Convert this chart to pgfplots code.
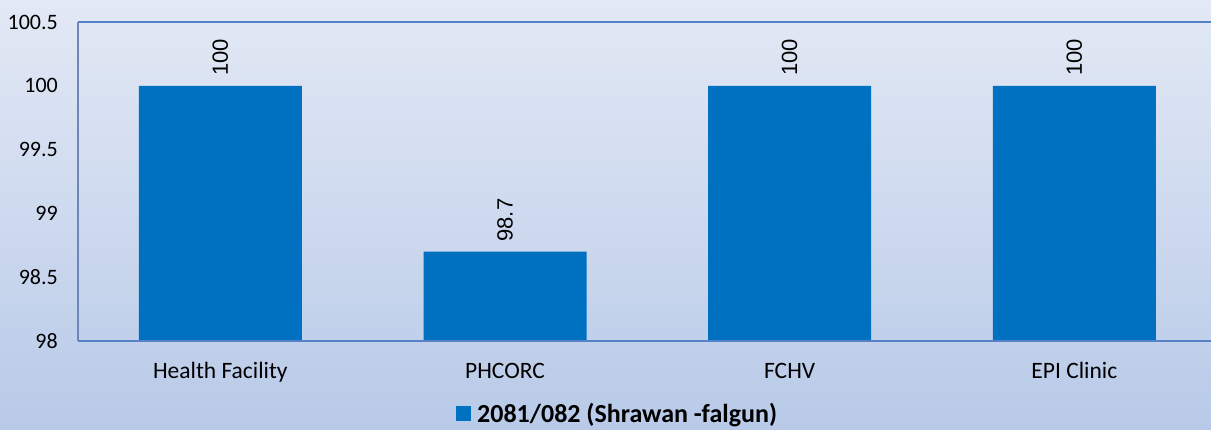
\documentclass[border=0pt]{standalone}
\usepackage{fontspec}
\setmainfont{Carlito}
\newfontfamily\arialf{Liberation Sans}
\usepackage{pgfplots}
\pgfplotsset{compat=1.18}
\definecolor{barblue}{HTML}{0070C0}
\definecolor{axisblue}{RGB}{86,128,200}
\definecolor{leftaxis}{RGB}{110,134,184}
\definecolor{bgtop}{RGB}{227,233,245}
\definecolor{bgbot}{RGB}{184,202,232}
\begin{document}
\begin{tikzpicture}[x=1pt,y=1pt]
\shade[top color=bgtop,bottom color=bgbot] (0,0) rectangle (1211,430);
\useasboundingbox (0,0) rectangle (1211,430);
\begin{axis}[
  at={(78pt,89pt)}, anchor=south west,
  scale only axis, width=1133pt, height=319pt,
  xmin=-0.5, xmax=3.48, ymin=98, ymax=100.5,
  axis line style={draw=none},
  major tick length=0pt,
  xtick={0,1,2,3},
  xticklabels={Health Facility,PHCORC,FCHV,EPI Clinic},
  ytick={98,98.5,99,99.5,100,100.5},
  yticklabels={98,98.5,99,99.5,100,100.5},
  yticklabel style={anchor=east, inner sep=0pt, xshift=-20pt, font=\fontsize{22pt}{26pt}\selectfont, text=black},
  xticklabel style={anchor=base, inner sep=0pt, yshift=-38pt, font=\fontsize{23.5pt}{27pt}\selectfont, text=black},
  ybar, bar width=163pt, bar shift=0pt,
  clip=false,
  nodes near coords={\arialf\pgfmathprintnumber[assume math mode=true]{\pgfplotspointmeta}},
  nodes near coords style={rotate=90, anchor=west, inner xsep=10pt, inner ysep=0pt, font=\fontsize{22pt}{26pt}\selectfont, text=black},
  legend style={at={(rel axis cs:0.3336,-0.228)}, anchor=west, draw=none, fill=none, inner sep=0pt,
    font=\bfseries\fontsize{26pt}{30pt}\selectfont, nodes={inner sep=0pt},
    /tikz/every odd column/.append style={column sep=6pt}},
  legend image code/.code={\fill[barblue] (0pt,-7.5pt) rectangle (15pt,7.5pt);},
]
\addplot[fill=barblue, draw=none] coordinates {(0,100) (1,98.7) (2,100) (3,100)};
\addlegendentry{2081/082 (Shrawan -falgun)}
\draw[axisblue, line width=2pt] (rel axis cs:0,0) -- (rel axis cs:1,0);
\draw[axisblue, line width=2pt] (rel axis cs:0,1) -- (rel axis cs:1,1);
\draw[leftaxis, line width=2.5pt] (rel axis cs:0,0) -- (rel axis cs:0,1);
\end{axis}
\end{tikzpicture}
\end{document}
